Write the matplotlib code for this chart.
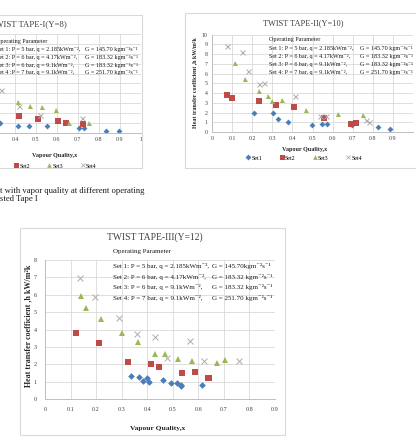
import matplotlib
matplotlib.use('Agg')
import matplotlib.pyplot as plt
from matplotlib.patches import Rectangle
from matplotlib.lines import Line2D
import numpy as np

plt.rcParams['font.family'] = ['Liberation Serif', 'DejaVu Serif']

# ---------------- data ----------------
set_names = ['Set1', 'Set2', 'Set3', 'Set4']

# TWIST TAPE-I (Y=8)
tt1_set1_x = [0.33, 0.415, 0.465, 0.555, 0.705, 0.73, 0.835, 0.895]
tt1_set1_y = [1.0, 0.7, 0.68, 0.74, 0.5, 0.5, 0.25, 0.25]
tt1_set2_x = [0.42, 0.51, 0.605, 0.645, 0.725]
tt1_set2_y = [1.68, 1.38, 1.18, 1.0, 0.9]
tt1_set3_x = [0.415, 0.47, 0.53, 0.595, 0.66, 0.755]
tt1_set3_y = [3.15, 2.75, 2.63, 2.3, 1.05, 1.05]
tt1_set4_x = [0.335, 0.42, 0.52, 0.72]
tt1_set4_y = [4.3, 2.75, 1.82, 1.48]

# TWIST TAPE-II (Y=10)
tt2_set1_x = [0.209, 0.302, 0.328, 0.378, 0.499, 0.547, 0.570, 0.697, 0.824, 0.887]
tt2_set1_y = [1.92, 1.92, 1.30, 0.99, 0.68, 0.86, 0.86, 0.72, 0.48, 0.31]
tt2_set2_x = [0.073, 0.10, 0.235, 0.32, 0.41, 0.557, 0.692, 0.716]
tt2_set2_y = [3.84, 3.53, 3.22, 2.81, 2.53, 1.44, 0.79, 0.89]
tt2_set3_x = [0.116, 0.163, 0.234, 0.279, 0.299, 0.347, 0.468, 0.627, 0.751]
tt2_set3_y = [7.05, 5.45, 4.21, 3.70, 3.22, 3.29, 2.26, 1.82, 1.75]
tt2_set4_x = [0.073, 0.149, 0.179, 0.235, 0.257, 0.411, 0.537, 0.567, 0.765, 0.781]
tt2_set4_y = [8.84, 8.18, 6.27, 4.93, 5.0, 3.66, 1.64, 1.64, 1.20, 1.03]

# TWIST TAPE-III (Y=12)
tt3_set1_x = [0.336, 0.369, 0.385, 0.40, 0.407, 0.463, 0.493, 0.516, 0.532, 0.533, 0.616]
tt3_set1_y = [1.34, 1.28, 1.05, 1.22, 0.99, 1.09, 0.92, 0.94, 0.82, 0.76, 0.79]
tt3_set2_x = [0.122, 0.212, 0.326, 0.413, 0.447, 0.535, 0.587, 0.637, 0.642]
tt3_set2_y = [3.77, 3.24, 2.15, 2.03, 1.84, 1.49, 1.53, 1.23, 1.21]
tt3_set3_x = [0.141, 0.159, 0.218, 0.301, 0.365, 0.430, 0.468, 0.519, 0.574, 0.674, 0.705]
tt3_set3_y = [5.95, 5.21, 4.58, 3.77, 3.26, 2.59, 2.59, 2.28, 2.20, 2.09, 2.26]
tt3_set4_x = [0.136, 0.196, 0.290, 0.359, 0.430, 0.476, 0.567, 0.623, 0.760]
tt3_set4_y = [6.97, 5.88, 4.67, 3.74, 3.54, 2.38, 3.33, 2.16, 2.18]

titles = ['TWIST TAPE-I(Y=8)', 'TWIST TAPE-II(Y=10)', 'TWIST TAPE-III(Y=12)']
xlabel = 'Vapour Quality,x'
ylabel = 'Heat transfer coefficient ,h kW/m\u00b2k'
param_head = 'Operating Parameter'
param_left_12 = ['Set 1: P = 5 bar, q = 2.185kWm\u207b\u00b2,',
                 'Set 2: P = 6 bar, q = 4.17kWm\u207b\u00b2,',
                 'Set 3: P = 6 bar, q = 9.1kWm\u207b\u00b2,',
                 'Set 4: P = 7 bar, q = 9.1kWm\u207b\u00b2,']
param_left_1 = param_left_12[:3] + ['Set 4 :P = 7 bar, q = 9.1kWm\u207b\u00b2,']
param_right = ['G = 145.70 kgm\u207b\u00b2s\u207b\u00b9',
               'G = 183.32 kgm\u207b\u00b2s\u207b\u00b9',
               'G = 183.32 kgm\u207b\u00b2s\u207b\u00b9',
               'G = 251.70 kgm\u207b\u00b2s\u207b\u00b9']
param_right_3 = ['G = 145.70kgm\u207b\u00b2s\u207b\u00b9'] + param_right[1:]
caption = ['t with vapor quality at different operating', 'sted Tape I']

# ---------------- style ----------------
colors = ['#4A7EBB', '#BE4B48', '#98B954', '#ADADAD']
markers = ['D', 's', '^', 'x']

W, H = 416, 448
fig = plt.figure(figsize=(W / 100, H / 100), dpi=100)
fig.patch.set_facecolor('white')


def box(l, t, r, b):
    return [l / W, 1 - b / H, (r - l) / W, (b - t) / H]


def fx(px):
    return px / W


def fy(py):
    return 1 - py / H


def ftext(px, py, s, **kw):
    fig.text(fx(px), fy(py), s, **kw)


def frame(l, t, r, b):
    fig.patches.append(Rectangle((fx(l), fy(b)), (r - l) / W, (b - t) / H,
                                 transform=fig.transFigure, fill=False,
                                 ec='#D9D9D9', lw=0.8))


def style_axes(ax, xmax, ymax, xticks, xlabels, tfs, pad, ylabels=True):
    ax.set_xlim(0, xmax)
    ax.set_ylim(0, ymax)
    ax.set_xticks(xticks)
    ax.set_xticklabels(xlabels)
    ax.set_yticks(range(0, ymax + 1))
    if not ylabels:
        ax.set_yticklabels([''] * (ymax + 1))
    ax.grid(True, color='#D9D9D9', lw=0.6)
    ax.set_axisbelow(True)
    for s in ['top', 'right']:
        ax.spines[s].set_visible(False)
    for s in ['left', 'bottom']:
        ax.spines[s].set_color('#BFBFBF')
        ax.spines[s].set_linewidth(0.7)
    ax.tick_params(length=0, labelsize=tfs, colors='#404040', pad=pad)
    ax.patch.set_alpha(0)


def scatter_sets(ax, xs, ys, sizes):
    for i in range(4):
        if markers[i] == 'x':
            ax.plot(xs[i], ys[i], ls='', marker='x', color=colors[i],
                    ms=sizes[i], mew=0.7)
        else:
            ax.plot(xs[i], ys[i], ls='', marker=markers[i], color=colors[i],
                    ms=sizes[i], mew=0)


def legend_handles(sizes, idx):
    hs = []
    for i in idx:
        hs.append(Line2D([], [], ls='', marker=markers[i], color=colors[i],
                         ms=sizes[i], mew=0.6 if markers[i] == 'x' else 0))
    return hs


def params(x0, xg, y0, ys, lefts, rights, fs):
    ftext(x0, y0, param_head, fontsize=fs, va='center', ha='left', color='#1a1a1a')
    for yy, l, r in zip(ys, lefts, rights):
        ftext(x0, yy, l, fontsize=fs, va='center', ha='left', color='#1a1a1a')
        ftext(xg, yy, r, fontsize=fs, va='center', ha='left', color='#1a1a1a')


# frames
frame(-120, 15, 142, 168)
frame(185, 13, 470, 168)
frame(20, 228, 285, 435)

leg_sizes = [3.0, 3.6, 3.4, 3.4]

# ---------------- chart 1 ----------------
ax1 = fig.add_axes(box(-68.8, 34, 140.7, 133))
style_axes(ax1, 1, 10, np.arange(0, 1.01, 0.1),
           ['', '', '', ''] + ['%.1f' % v for v in np.arange(0.4, 0.95, 0.1)] + ['1'],
           4.2, 3, ylabels=False)
scatter_sets(ax1, [tt1_set1_x, tt1_set2_x, tt1_set3_x, tt1_set4_x],
             [tt1_set1_y, tt1_set2_y, tt1_set3_y, tt1_set4_y], [3.0, 4.2, 3.6, 3.6])
ftext(28, 24, titles[0], fontsize=6.3, ha='center', va='center', color='#404040')
params(-4, 85, 42, [50, 57.5, 65, 72.7], param_left_1, param_right, 4.45)
ftext(55, 155, xlabel, fontsize=4.4, fontweight='bold', ha='center', va='center', color='#262626')
fig.legend(legend_handles(leg_sizes, [1, 2, 3]), set_names[1:], ncol=3, loc='center left',
           bbox_to_anchor=(fx(11), fy(166)), frameon=False, fontsize=4.3,
           handlelength=0.7, handletextpad=0.2, columnspacing=2.9, borderpad=0)

# ---------------- chart 2 ----------------
ax2 = fig.add_axes(box(212, 34.7, 413, 132))
style_axes(ax2, 1, 10, np.arange(0, 0.95, 0.1),
           ['0'] + ['%.1f' % v for v in np.arange(0.1, 0.95, 0.1)], 4.2, 3)
ax2.axvline(1.0, color='#D9D9D9', lw=0.6)
scatter_sets(ax2, [tt2_set1_x, tt2_set2_x, tt2_set3_x, tt2_set4_x],
             [tt2_set1_y, tt2_set2_y, tt2_set3_y, tt2_set4_y], [3.0, 4.2, 3.6, 3.6])
ftext(303, 23, titles[1], fontsize=6.0, ha='center', va='center', color='#404040')
params(269, 360, 40, [48.7, 56.7, 64.7, 72.7], param_left_12, param_right, 4.45)
ftext(305, 149, xlabel, fontsize=4.4, fontweight='bold', ha='center', va='center', color='#262626')
ftext(195, 83, ylabel, fontsize=4.3, fontweight='bold', rotation=90, ha='center',
      va='center', color='#262626')
fig.legend(legend_handles(leg_sizes, [0, 1, 2, 3]), set_names, ncol=4, loc='center',
           bbox_to_anchor=(fx(304), fy(158)), frameon=False, fontsize=4.3,
           handlelength=0.7, handletextpad=0.2, columnspacing=2.9, borderpad=0)

# ---------------- chart 3 ----------------
ax3 = fig.add_axes(box(45, 260, 275, 399))
style_axes(ax3, 0.9, 8, np.arange(0, 0.95, 0.1),
           ['0'] + ['%.1f' % v for v in np.arange(0.1, 0.95, 0.1)], 4.4, 6)
scatter_sets(ax3, [tt3_set1_x, tt3_set2_x, tt3_set3_x, tt3_set4_x],
             [tt3_set1_y, tt3_set2_y, tt3_set3_y, tt3_set4_y], [3.4, 4.6, 4.0, 4.2])
ftext(155, 237, titles[2], fontsize=6.9, ha='center', va='center', color='#404040')
params(112.7, 211.7, 251.7, [265.5, 276.5, 287.5, 298], param_left_12, param_right_3, 5.0)
ftext(158, 428, xlabel, fontsize=5.4, fontweight='bold', ha='center', va='center', color='#262626')
ftext(28, 326, ylabel, fontsize=5.8, fontweight='bold', rotation=90, ha='center',
      va='center', color='#262626')

# ---------------- caption ----------------
ftext(0, 191, caption[0], fontsize=6.2, ha='left', va='center', color='#1a1a1a')
ftext(0, 199, caption[1], fontsize=6.2, ha='left', va='center', color='#1a1a1a')

fig.savefig('out.png', dpi=100, facecolor='white')
